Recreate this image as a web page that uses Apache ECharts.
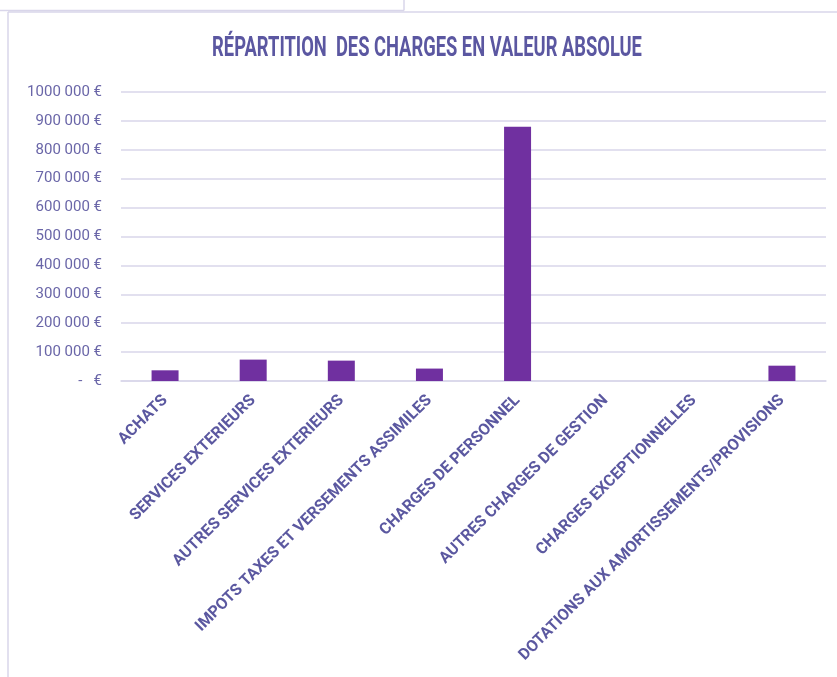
<!DOCTYPE html>
<html>
<head>
<meta charset="utf-8">
<script src="https://cdn.jsdelivr.net/npm/echarts@6/dist/echarts.min.js"></script>
<style>
  html, body { margin: 0; padding: 0; background: #fff; }
  #main { width: 837px; height: 677px; }
</style>
</head>
<body>
<div id="main"></div>
<script>
var categories = [
    'ACHATS',
    'SERVICES EXTERIEURS',
    'AUTRES SERVICES EXTERIEURS',
    'IMPOTS TAXES ET VERSEMENTS ASSIMILES',
    'CHARGES DE PERSONNEL',
    'AUTRES CHARGES DE GESTION',
    'CHARGES EXCEPTIONNELLES',
    'DOTATIONS AUX AMORTISSEMENTS/PROVISIONS'
];
var charges = [37000, 74000, 70500, 43000, 880000, 0, 0, 53000];
var yTickLabels = ['-   €', '100 000 €', '200 000 €', '300 000 €', '400 000 €',
    '500 000 €', '600 000 €', '700 000 €', '800 000 €', '900 000 €', '1000 000 €'];
var titleText = 'RÉPARTITION  DES CHARGES EN VALEUR ABSOLUE';

var chartDom = document.getElementById('main');
var myChart = echarts.init(chartDom);
var frameColor = '#d9d6ea';
var option;

option = {
    animation: false,
    grid: {
        left: 121,
        right: 11,
        top: 92,
        bottom: 296
    },
    graphic: [
        // the sheet cells around the chart
        { type: 'line', shape: { x1: 0, y1: 10.5, x2: 404, y2: 10.5 }, style: { stroke: frameColor, lineWidth: 1.5 } },
        { type: 'line', shape: { x1: 404, y1: 0, x2: 404, y2: 10.5 }, style: { stroke: frameColor, lineWidth: 1.5 } },
        { type: 'line', shape: { x1: 8, y1: 12, x2: 837, y2: 12 }, style: { stroke: frameColor, lineWidth: 1.5 } },
        { type: 'line', shape: { x1: 8, y1: 12, x2: 8, y2: 677 }, style: { stroke: frameColor, lineWidth: 1.5 } },
        {
            type: 'text',
            x: 427,
            y: 49,
            scaleX: 0.655,
            style: {
                text: titleText,
                font: 'bold 28px Roboto',
                fill: '#5b57a1',
                align: 'center',
                verticalAlign: 'middle'
            }
        }
    ],
    xAxis: {
        type: 'category',
        data: categories,
        axisLine: { lineStyle: { color: frameColor, width: 1.5 } },
        axisTick: { show: false },
        axisLabel: {
            interval: 0,
            rotate: 45,
            margin: 17,
            color: '#5b58a0',
            fontFamily: 'Roboto',
            fontWeight: 'bold',
            fontSize: 16
        }
    },
    yAxis: {
        type: 'value',
        min: 0,
        max: 1000000,
        interval: 100000,
        axisLine: { show: false },
        axisTick: { show: false },
        splitLine: { lineStyle: { color: frameColor, width: 1.5 } },
        axisLabel: {
            margin: 19,
            color: '#6a66a8',
            fontFamily: 'Roboto',
            fontSize: 15,
            formatter: function (value, index) {
                return yTickLabels[index];
            }
        }
    },
    series: [{
        type: 'bar',
        data: charges,
        barWidth: 27,
        itemStyle: { color: '#7030a0' }
    }]
};
myChart.setOption(option);
</script>
</body>
</html>
